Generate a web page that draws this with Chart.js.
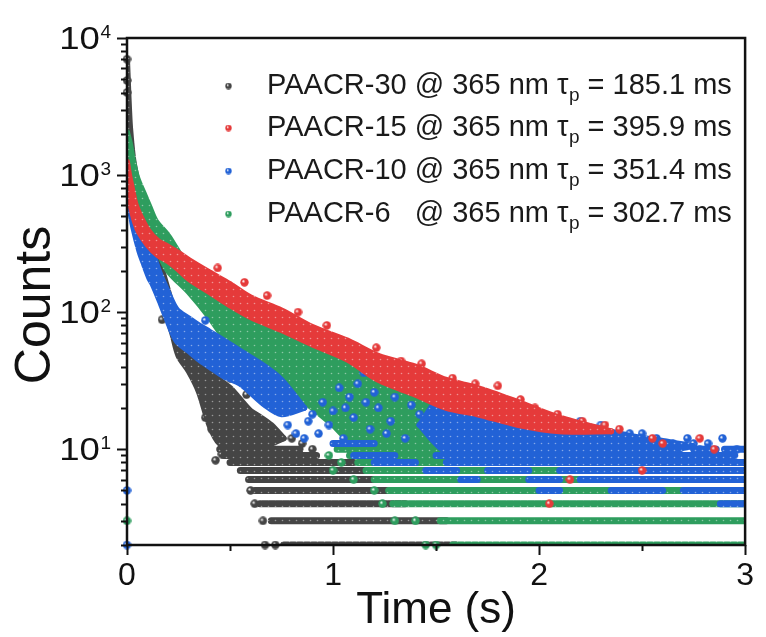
<!DOCTYPE html>
<html>
<head>
<meta charset="utf-8">
<script src="https://cdn.jsdelivr.net/npm/chart.js@4.4.1/dist/chart.umd.min.js"></script>
<style>
  html, body { margin: 0; padding: 0; background: #fff; }
</style>
</head>
<body>
<canvas id="decay" width="766" height="637"></canvas>
<script>
// legend text
const sampleNames = ["PAACR-30", "PAACR-15", "PAACR-10", "PAACR-6"];
const lifetimes = ["185.1", "395.9", "351.4", "302.7"];

// axis ticks
const xTickValues = [0, 0.5, 1, 1.5, 2, 2.5, 3];
const yDecades = [10, 100, 1000, 10000];
const yMinor = [2, 3, 4, 5, 6, 7, 8, 9];

// PAACR-30 (black): dense part as upper/lower edge of the cloud
const blackTime  = [0, 0.005, 0.01, 0.015, 0.03, 0.05, 0.08, 0.1, 0.125, 0.16, 0.19, 0.22, 0.25, 0.3, 0.35, 0.4, 0.45, 0.5, 0.55, 0.6, 0.65, 0.7, 0.76];
const blackUpper = [7000, 4500, 3000, 2200, 1300, 900, 550, 420, 330, 230, 160, 110, 65, 55, 47, 38, 32, 28, 23, 19, 17, 15, 12];
const blackLower = [4000, 2800, 2000, 1500, 900, 600, 380, 280, 220, 150, 100, 70, 48, 37, 26, 15, 11, 11, 11, 11, 11, 11, 12];
// integer count rows: [counts, t start, t end]
const blackBands = [[10, 0.45, 0.84], [9, 0.47, 0.92], [8, 0.5, 1.1], [7, 0.55, 1.15], [6, 0.59, 1.2],
                    [5, 0.62, 1.3], [4, 0.645, 1.35], [3, 0.7, 1.55], [2, 0.76, 1.6]];
const blackDots = [[0, 7000], [0, 4900], [0, 4000], [0.17, 88], [0.21, 95], [0.26, 70], [0.33, 50], [0.38, 17],
                   [0.41, 14], [0.43, 8.3], [0.46, 9.2], [0.5, 33], [0.58, 25], [0.62, 4], [0.66, 3], [0.67, 2],
                   [0.72, 2], [0.6, 5], [0.8, 12], [0.85, 11], [0.9, 10]];

// PAACR-15 (red)
const redTime  = [0, 0.01, 0.02, 0.04, 0.06, 0.1, 0.15, 0.2, 0.25, 0.3, 0.4, 0.5, 0.6, 0.75, 0.9, 1.07, 1.22, 1.4, 1.55, 1.7, 1.9, 2.1, 2.35];
const redUpper = [1250, 1000, 850, 620, 520, 400, 330, 300, 270, 240, 195, 160, 128, 103, 78, 62, 48, 40, 32, 28, 22, 17, 13.5];
const redLower = [800, 680, 580, 450, 380, 310, 260, 235, 205, 175, 140, 112, 92, 74, 58, 45, 32, 25, 20, 18, 15, 13.5, 13.5];
const redDots = [[0.44, 210], [0.57, 165], [0.68, 132], [0.83, 100], [0.97, 80], [1.21, 55], [1.33, 44], [1.43, 42],
                 [1.48, 34], [1.58, 33], [1.69, 30], [1.8, 29], [1.91, 23], [1.98, 20], [2.09, 18], [2.21, 16], [2.32, 15],
                 [2.39, 14], [2.55, 12], [2.6, 11], [2.78, 12], [2.85, 10], [2.5, 7], [2.05, 4], [2.15, 6]];

// PAACR-10 (blue): fast part and the long tail
const blueTime  = [0, 0.014, 0.03, 0.06, 0.08, 0.11, 0.125, 0.16, 0.19, 0.24, 0.3, 0.35, 0.4, 0.47, 0.55, 0.67, 0.75, 0.86];
const blueUpper = [1000, 820, 650, 445, 380, 310, 270, 190, 150, 105, 90, 80, 72, 62, 52, 40, 32, 20];
const blueLower = [650, 560, 420, 280, 230, 175, 160, 120, 92, 62, 52, 45, 40, 34, 30, 21, 18, 20];
const blueTailTime  = [1.42, 1.53, 1.6, 1.74, 1.9, 2.05, 2.18, 2.3, 2.44, 2.6, 2.75];
const blueTailUpper = [15, 25, 23, 22, 19, 17, 15.5, 14, 12.5, 11.5, 10.5];
const blueTailLower = [15, 10, 9.6, 9.6, 9.6, 9.6, 9.6, 9.6, 9.6, 9.8, 10.5];
const blueBands = [[11, 1.0, 1.2], [9, 1.1, 1.3], [9, 1.5, 2.95], [8, 1.2, 1.4], [8, 1.55, 3.0], [7, 1.45, 1.6],
                   [7, 1.75, 1.95], [7, 2.1, 3.0], [6, 1.62, 1.7], [6, 1.95, 2.1], [6, 2.2, 3.0], [5, 2.0, 2.1],
                   [5, 2.35, 2.6], [5, 2.7, 3.0], [4, 2.88, 3.0], [10, 2.75, 2.86], [10, 2.9, 3.0]];
const blueDots = [[0, 5], [0, 2], [0.38, 87], [0.6, 30], [0.78, 15], [0.82, 13], [0.86, 12], [0.9, 18], [0.93, 13],
                  [0.95, 22], [0.98, 15], [1.0, 19], [1.03, 28], [1.05, 12], [1.08, 24], [1.1, 17], [1.12, 30],
                  [1.15, 36], [1.18, 14], [1.2, 26], [1.22, 20], [1.25, 33], [1.28, 16], [1.3, 24], [1.33, 28],
                  [1.35, 12], [1.38, 21], [1.4, 30], [1.42, 18], [1.98, 19], [2.05, 17], [2.2, 16], [2.3, 15],
                  [2.44, 13], [2.5, 13], [2.57, 12], [2.65, 11], [2.72, 12], [2.75, 11], [2.82, 11], [2.89, 12],
                  [2.96, 10], [2.68, 10], [2.78, 10], [0.88, 16], [1.06, 20], [1.16, 22], [1.26, 13], [1.45, 24]];

// PAACR-6 (green)
const greenTime  = [0, 0.014, 0.03, 0.05, 0.08, 0.11, 0.14, 0.2, 0.3, 0.4, 0.5, 0.6, 0.75, 0.9, 1.0, 1.07, 1.22, 1.4, 1.55, 1.75];
const greenUpper = [2050, 1700, 1250, 950, 740, 580, 460, 360, 210, 160, 122, 96, 74, 58, 50, 45, 33, 25, 20, 12];
const greenLower = [1300, 1100, 820, 620, 480, 370, 300, 200, 140, 92, 57, 44, 30, 20, 15, 12, 10.5, 10.5, 10.5, 12];
const greenBands = [[9, 1.08, 2.2], [8, 1.12, 2.6], [7, 1.16, 3.0], [6, 1.2, 3.0], [5, 1.27, 3.0],
                    [4, 1.29, 3.0], [3, 1.52, 3.0], [2, 1.58, 3.0], [10, 1.02, 1.6]];
const greenDots = [[0, 3], [0.43, 90], [0.98, 9], [1.0, 7], [1.04, 8], [1.1, 6], [1.2, 5], [1.24, 4],
                   [1.3, 3], [1.4, 3], [1.45, 2], [1.5, 2], [1.8, 11], [1.9, 10], [2.05, 10]];

const colors = { black: "#454545", red: "#e53a3a", blue: "#2262d6", green: "#2e9d5e" };

function ball(color, size) {
  const c = document.createElement("canvas");
  c.width = size; c.height = size;
  const g = c.getContext("2d");
  const r = size / 2;
  const grad = g.createRadialGradient(r * 0.7, r * 0.7, 0.3, r, r, r);
  grad.addColorStop(0, "#ffffff");
  grad.addColorStop(0.35, color);
  grad.addColorStop(1, color);
  g.fillStyle = grad;
  g.beginPath(); g.arc(r, r, r - 0.3, 0, Math.PI * 2); g.fill();
  return c;
}

function speckle(color) {
  const c = document.createElement("canvas");
  c.width = 7; c.height = 7;
  const g = c.getContext("2d");
  g.fillStyle = color; g.fillRect(0, 0, 7, 7);
  g.fillStyle = "rgba(255,255,255,0.45)";
  g.beginPath(); g.arc(2.5, 2.5, 0.8, 0, Math.PI * 2); g.fill();
  return g.createPattern(c, "repeat");
}

function edge(time, vals) {
  return time.map((t, i) => ({ x: t, y: vals[i] }));
}

function bandPoints(bands) {
  const pts = [];
  bands.forEach(([level, t0, t1]) => {
    pts.push({ x: t0, y: level }, { x: t1, y: level }, { x: t1, y: null });
  });
  return pts;
}

function cloud(time, upper, lower, color, order) {
  const pat = speckle(color);
  const common = { borderColor: pat, borderWidth: 6, borderJoinStyle: "round", borderCapStyle: "round",
                   pointRadius: 0, tension: 0.3, order: order };
  return [
    Object.assign({ data: edge(time, upper), fill: "+1", backgroundColor: pat }, common),
    Object.assign({ data: edge(time, lower), fill: false }, common)
  ];
}

function bands(list, color, order) {
  return { data: bandPoints(list), borderColor: speckle(color), borderWidth: 7, borderCapStyle: "round",
           pointRadius: 0, fill: false, spanGaps: false, order: order };
}

function dots(list, color, order) {
  return { data: list.map(([t, c]) => ({ x: t, y: c })), showLine: false, pointStyle: ball(color, 9),
           pointRadius: 4.5, order: order, clip: 5 };
}

const datasets = [
  ...cloud(redTime, redUpper, redLower, colors.red, 1),
  dots(redDots, colors.red, 1),
  ...cloud(blueTime, blueUpper, blueLower, colors.blue, 2),
  ...cloud(blueTailTime, blueTailUpper, blueTailLower, colors.blue, 2),
  bands(blueBands, colors.blue, 2),
  dots(blueDots, colors.blue, 2),
  ...cloud(greenTime, greenUpper, greenLower, colors.green, 3),
  bands(greenBands, colors.green, 3),
  dots(greenDots, colors.green, 3),
  ...cloud(blackTime, blackUpper, blackLower, colors.black, 4),
  bands(blackBands, colors.black, 4),
  dots(blackDots, colors.black, 4)
];

const yTickValues = [];
yDecades.forEach(d => { if (d > 10) yMinor.forEach(m => yTickValues.push(m * d / 10)); });
yMinor.forEach(m => yTickValues.push(m));
yTickValues.push(...yDecades);

const FONT = '"Liberation Sans", Arial, sans-serif';

const decor = {
  id: "decor",
  afterDraw(chart) {
    const { ctx, chartArea: a, scales: { x, y } } = chart;
    ctx.save();
    ctx.strokeStyle = "#111";
    ctx.lineWidth = 2;
    yTickValues.forEach(v => {
      const py = Math.round(y.getPixelForValue(v)) + 0.5;
      const major = yDecades.includes(v);
      ctx.beginPath(); ctx.moveTo(a.left, py); ctx.lineTo(a.left - (major ? 10 : 6), py); ctx.stroke();
    });
    xTickValues.forEach(v => {
      const px = Math.round(x.getPixelForValue(v)) + 0.5;
      const major = Number.isInteger(v);
      ctx.beginPath(); ctx.moveTo(px, a.bottom); ctx.lineTo(px, a.bottom + (major ? 10 : 6)); ctx.stroke();
    });
    ctx.lineWidth = 2.5;
    ctx.strokeRect(a.left, a.top, a.right - a.left, a.bottom - a.top);

    // y tick labels 10^n
    ctx.fillStyle = "#111";
    ctx.textBaseline = "alphabetic";
    yDecades.forEach(v => {
      const py = y.getPixelForValue(v);
      const exp = String(Math.round(Math.log10(v)));
      ctx.font = "19px " + FONT;
      ctx.textAlign = "right";
      const ew = ctx.measureText(exp).width;
      ctx.fillText(exp, 111, py - 0.5);
      ctx.save();
      ctx.font = "31px " + FONT;
      ctx.translate(111 - ew - 0.5, py + 11);
      ctx.scale(1.18, 1);
      ctx.fillText("10", 0, 0);
      ctx.restore();
    });

    // y axis title
    ctx.save();
    ctx.translate(50, 305);
    ctx.rotate(-Math.PI / 2);
    ctx.font = "50px " + FONT;
    ctx.textAlign = "center";
    ctx.textBaseline = "alphabetic";
    ctx.fillText("Counts", 0, 0);
    ctx.restore();

    // legend
    const rowY = [86, 128, 171, 214];
    const legendColors = [colors.black, colors.red, colors.blue, colors.green];
    ctx.font = "29px " + FONT;
    ctx.textAlign = "left";
    ctx.textBaseline = "middle";
    const restX = 267 + ctx.measureText(sampleNames[0] + " ").width;
    sampleNames.forEach((name, i) => {
      const yy = rowY[i];
      ctx.drawImage(ball(legendColors[i], 7), 225, yy - 3.5);
      ctx.fillStyle = "#1a1a1a";
      ctx.font = "29px " + FONT;
      ctx.fillText(name, 267, yy);
      let cx = restX;
      const head = "@ 365 nm \u03c4";
      ctx.fillText(head, cx, yy);
      cx += ctx.measureText(head).width;
      ctx.font = "19px " + FONT;
      ctx.fillText("p", cx + 0.5, yy + 10);
      cx += ctx.measureText("p").width + 0.5;
      ctx.font = "29px " + FONT;
      ctx.fillText(" = " + lifetimes[i] + " ms", cx, yy);
    });
    ctx.restore();
  }
};

new Chart(document.getElementById("decay"), {
  type: "line",
  data: { datasets: datasets },
  options: {
    responsive: false,
    animation: false,
    layout: { padding: { top: 38, right: 12, left: 0, bottom: 0 } },
    plugins: { legend: { display: false }, tooltip: { enabled: false } },
    scales: {
      x: {
        type: "linear", min: 0, max: 3,
        afterBuildTicks: s => { s.ticks = xTickValues.map(v => ({ value: v })); },
        ticks: { callback: v => Number.isInteger(v) ? String(v) : "", font: { size: 32, family: FONT },
                 color: "#111", padding: 12, maxRotation: 0, autoSkip: false },
        grid: { display: false, drawTicks: false },
        border: { display: false },
        title: { display: true, text: "Time (s)", color: "#111", font: { size: 44, family: FONT }, padding: { top: 0, bottom: 0 } },
        afterFit: s => { s.height = 92; }
      },
      y: {
        type: "logarithmic", min: 2, max: 10000,
        afterBuildTicks: s => { s.ticks = yTickValues.map(v => ({ value: v })); },
        ticks: { display: false },
        grid: { display: false, drawTicks: false },
        border: { display: false },
        title: { display: false },
        afterFit: s => { s.width = 127; }
      }
    }
  },
  plugins: [decor]
});
</script>
</body>
</html>
